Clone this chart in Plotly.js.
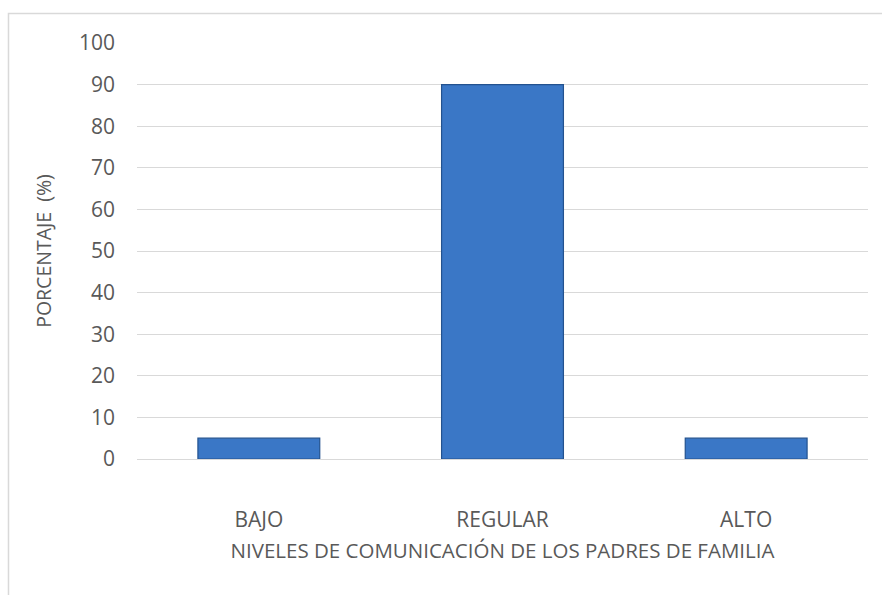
<!DOCTYPE html>
<html>
<head>
<meta charset="utf-8">
<script src="https://cdn.plot.ly/plotly-3.0.1.min.js"></script>
<style>html,body{margin:0;padding:0;background:#fff;}#chart{width:882px;height:595px;}</style>
</head>
<body>
<div id="chart"></div>
<script>
const categories = ["BAJO", "REGULAR", "ALTO"];
const values = [5, 90, 5];
const yTitle = "PORCENTAJE  (%)";
const xTitle = "NIVELES DE COMUNICACIÓN DE LOS PADRES DE FAMILIA";

const fam = "'Open Sans', 'Noto Sans', sans-serif";
const tickFont = {family: fam, size: 21, color: "#595959"};
const xTitleFont = {family: fam, size: 20.5, color: "#595959"};
const yTitleFont = {family: fam, size: 19.5, color: "#595959"};

const trace = {
  type: "bar",
  x: categories,
  y: values,
  marker: {color: "#3a77c6", line: {color: "#23528f", width: 1.2}},
  hoverinfo: "x+y"
};

const layout = {
  width: 882, height: 595,
  margin: {l: 137, r: 14, t: 43, b: 136},
  paper_bgcolor: "#ffffff", plot_bgcolor: "#ffffff",
  font: tickFont,
  showlegend: false,
  bargap: 0.5,
  xaxis: {
    showgrid: false, showline: false, zeroline: false, ticks: "",
    ticklabelstandoff: 46,
    tickfont: tickFont,
    title: {text: xTitle, font: xTitleFont, standoff: 11}
  },
  yaxis: {
    range: [0, 100], dtick: 10, showgrid: true, gridcolor: "#d9d9d9", gridwidth: 1,
    zeroline: true, zerolinecolor: "#d9d9d9", zerolinewidth: 1,
    showline: false, ticks: "", ticklabelstandoff: 21,
    tickfont: tickFont,
    title: {text: yTitle, font: yTitleFont, standoff: 22}
  },
  shapes: [{
    type: "rect", xref: "paper", yref: "paper",
    x0: -0.1758, x1: 1.1, y0: -0.6, y1: 1.0709,
    line: {color: "#d9d9d9", width: 1.5}, fillcolor: "rgba(0,0,0,0)", layer: "below"
  }]
};

Plotly.newPlot("chart", [trace], layout, {displayModeBar: false, staticPlot: true});
</script>
</body>
</html>
